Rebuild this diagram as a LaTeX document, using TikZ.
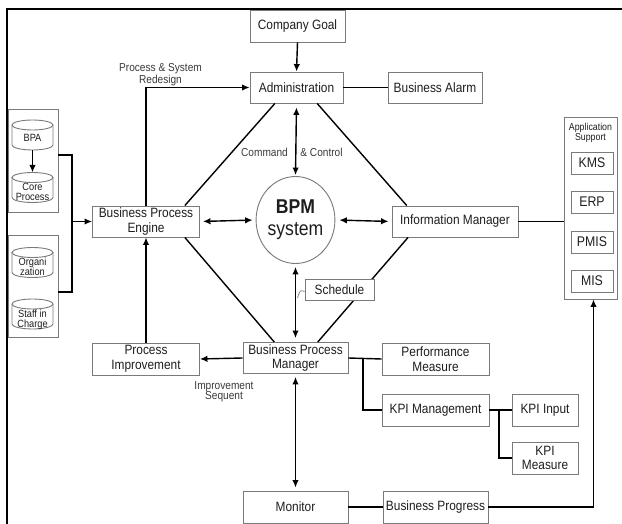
\documentclass[tikz,border=0pt]{standalone}
\usepackage{fontspec}
\setmainfont{Liberation Sans}[FakeStretch=0.88]
\usetikzlibrary{arrows.meta,shapes.geometric,calc}
\definecolor{boxgray}{HTML}{7A7A7A}
\definecolor{txt}{HTML}{1E1E1E}
\definecolor{lbltxt}{HTML}{3A3A3A}
\begin{document}
\begin{tikzpicture}[x=1pt,y=-1pt,
 box/.style={draw=boxgray, line width=0.9pt, fill=white, inner sep=0pt, align=center,
   font=\fontsize{13.5}{14.5}\selectfont, text=txt},
 smallbox/.style={box, minimum width=42, minimum height=22, font=\fontsize{14}{15}\selectfont},
 group/.style={draw=boxgray, line width=0.9pt, inner sep=0pt},
 link/.style={line width=1.4pt, draw=black},
 arr/.style={link, -{Latex[length=7.5pt,width=6.5pt]}},
 darr/.style={link, {Latex[length=7.5pt,width=6.5pt]}-{Latex[length=7.5pt,width=6.5pt]}},
 lbl/.style={font=\fontsize{11.5}{10.5}\selectfont, text=lbltxt, align=center, inner sep=0pt},
 cyltxt/.style={font=\fontsize{10.5}{10}\selectfont, text=txt, align=center, inner sep=0pt},
 cylnode/.style={minimum width=41, minimum height=30, inner sep=0pt},
 cyl/.pic={
   \draw[boxgray, line width=0.9pt, fill=white] (-20.5,-10) -- (-20.5,10)
      arc[start angle=180, end angle=0, x radius=20.5, y radius=5] -- (20.5,-10);
   \draw[boxgray, line width=0.9pt, fill=white] (0,-10) ellipse [x radius=20.5, y radius=5];
 }
]
\useasboundingbox (0,0) rectangle (622,524);
\fill[white] (0,0) rectangle (622,524);
\draw[line width=1.4pt] (622,9) -- (7,9) -- (7,524);

% main boxes
\node[box, minimum width=95, minimum height=32] (goal) at (297.5,26) {Company Goal};
\node[box, minimum width=93, minimum height=31] (admin) at (296.5,87.5) {Administration};
\node[box, minimum width=94, minimum height=31] (alarm) at (435,87.5) {Business Alarm};
\node[box, minimum width=107, minimum height=31] (bpe) at (146,221.5) {Business Process\\Engine};
\node[draw=boxgray, line width=0.9pt, ellipse, fill=white, minimum width=69, minimum height=87, inner sep=0pt,
      align=center, text=txt, font=\fontsize{20}{22}\selectfont] (bpm) at (295.5,220)
      {\bfseries BPM\\system};
\node[box, minimum width=126, minimum height=31] (im) at (455,221.5) {Information Manager};
\node[box, minimum width=105, minimum height=31] (bpm2) at (295.5,358) {Business Process\\Manager};
\node[box, minimum width=107, minimum height=32] (pi) at (146,359) {Process\\Improvement};
\node[box, minimum width=107, minimum height=32] (perf) at (435.5,359) {Performance\\Measure};
\node[box, minimum width=107, minimum height=32] (kpim) at (435.5,410) {KPI Management};
\node[box, minimum width=66, minimum height=32] (kpii) at (545,410) {KPI Input};
\node[box, minimum width=66, minimum height=32] (kpimeas) at (545,458) {KPI\\Measure};
\node[box, minimum width=105, minimum height=32] (mon) at (295.5,507) {Monitor};
\node[box, minimum width=105, minimum height=32] (bprog) at (435.5,507) {Business Progress};

% application support
\node[group, minimum width=53, minimum height=182] (app) at (590.5,208) {};
\node[cyltxt, font=\fontsize{10}{9.5}\selectfont] (applbl) at (590.5,133) {Application\\Support};
\node[smallbox] (kms) at (592,163) {KMS};
\node[smallbox] (erp) at (592,202) {ERP};
\node[smallbox] (pmis) at (592,242) {PMIS};
\node[smallbox] (mis) at (592,281) {MIS};

% left groups
\node[group, minimum width=50, minimum height=103] (grp1) at (33,160.5) {};
\node[group, minimum width=50, minimum height=102] (grp2) at (33,286) {};
\path (32.5,135) pic {cyl};
\path (32.5,187.5) pic {cyl};
\path (32.5,262.5) pic {cyl};
\path (32.5,314) pic {cyl};
\node[cylnode] (bpa) at (32.5,135) {};
\node[cylnode] (core) at (32.5,187.5) {};
\node[cylnode] (org) at (32.5,262.5) {};
\node[cylnode] (staff) at (32.5,314) {};
\node[cyltxt] (bpat) at (32.5,137.5) {BPA};
\node[cyltxt] (coret) at (32.5,192) {Core\\Process};
\node[cyltxt] (orgt) at (32.5,267) {Organi\\zation};
\node[cyltxt] (stafft) at (32.5,320) {Staff in\\Charge};
\draw[arr, line width=1.1pt] (bpa.south) -- (core.north);

% left bracket into engine
\coordinate (br) at ([xshift=-20]bpe.west);
\draw[link] ([yshift=5.5]grp1.east) -| (br) |- ([yshift=-6]grp2.east);
\draw[arr] (br) -- (bpe.west);

% top
\draw[arr] (goal.south) -- (admin.north);
\draw[link] (admin.east) -- (alarm.west);
\draw[arr] (bpe.north) |- (admin.west);
\node[lbl] (redesign) at (160.5,75) {Process \& System\\Redesign};

% central arrows
\draw[darr, shorten <=4pt, shorten >=1pt] (admin.south) -- (bpm.north);
\node[lbl] (cmd) at (264.5,152) {Command};
\node[lbl] (ctrl) at (321.5,152) {\& Control};
\draw[darr, shorten <=3pt, shorten >=3pt] (bpe.east) -- (bpm.west);
\draw[darr, shorten <=4pt, shorten >=3pt] (bpm.east) -- (im.west);
\draw[darr, shorten <=3pt, shorten >=4pt] (bpm.south) -- (bpm2.north);
\draw[darr, shorten <=3pt, shorten >=3pt] (bpm2.south) -- (mon.north);

% diamond
\draw[link] ($(admin.south west)!0.27!(admin.south east)$) -- ($(bpe.north west)!0.86!(bpe.north east)$);
\draw[link] ($(admin.south west)!0.72!(admin.south east)$) -- ($(im.north west)!0.12!(im.north east)$);
\draw[link] ($(bpe.south west)!0.86!(bpe.south east)$) -- ($(bpm2.north west)!0.30!(bpm2.north east)$);
\draw[link] ($(im.south west)!0.13!(im.south east)$) -- ($(bpm2.north west)!0.71!(bpm2.north east)$);

% schedule on top of the line
\node[box, minimum width=69, minimum height=21] (sched) at (339.5,289.5) {Schedule};
\coordinate (schedend) at (297.5,298);
\draw[boxgray, line width=0.7pt] ([yshift=-2]sched.west) .. controls (300,290) .. (schedend);

% lower left
\draw[arr] (bpm2.west) -- (pi.east);
\node[lbl] (impseq) at (224,391.5) {Improvement\\Sequent};
\draw[arr] (pi.north) -- (bpe.south);

% lower right
\coordinate (j1) at ($(bpm2.east)!0.44!(perf.west)$);
\draw[link] (bpm2.east) -- (perf.west);
\draw[link] (j1) |- (kpim.west);
\coordinate (j2) at ($(kpim.east)!0.43!(kpii.west)$);
\draw[link] (kpim.east) -- (kpii.west);
\draw[link] (j2) |- (kpimeas.west);
\draw[link] (im.east) -- (im.east -| app.west);
\draw[link] (mon.east) -- (bprog.west);
\draw[arr] (bprog.east) -| ([xshift=3]app.south);
\end{tikzpicture}
\end{document}
